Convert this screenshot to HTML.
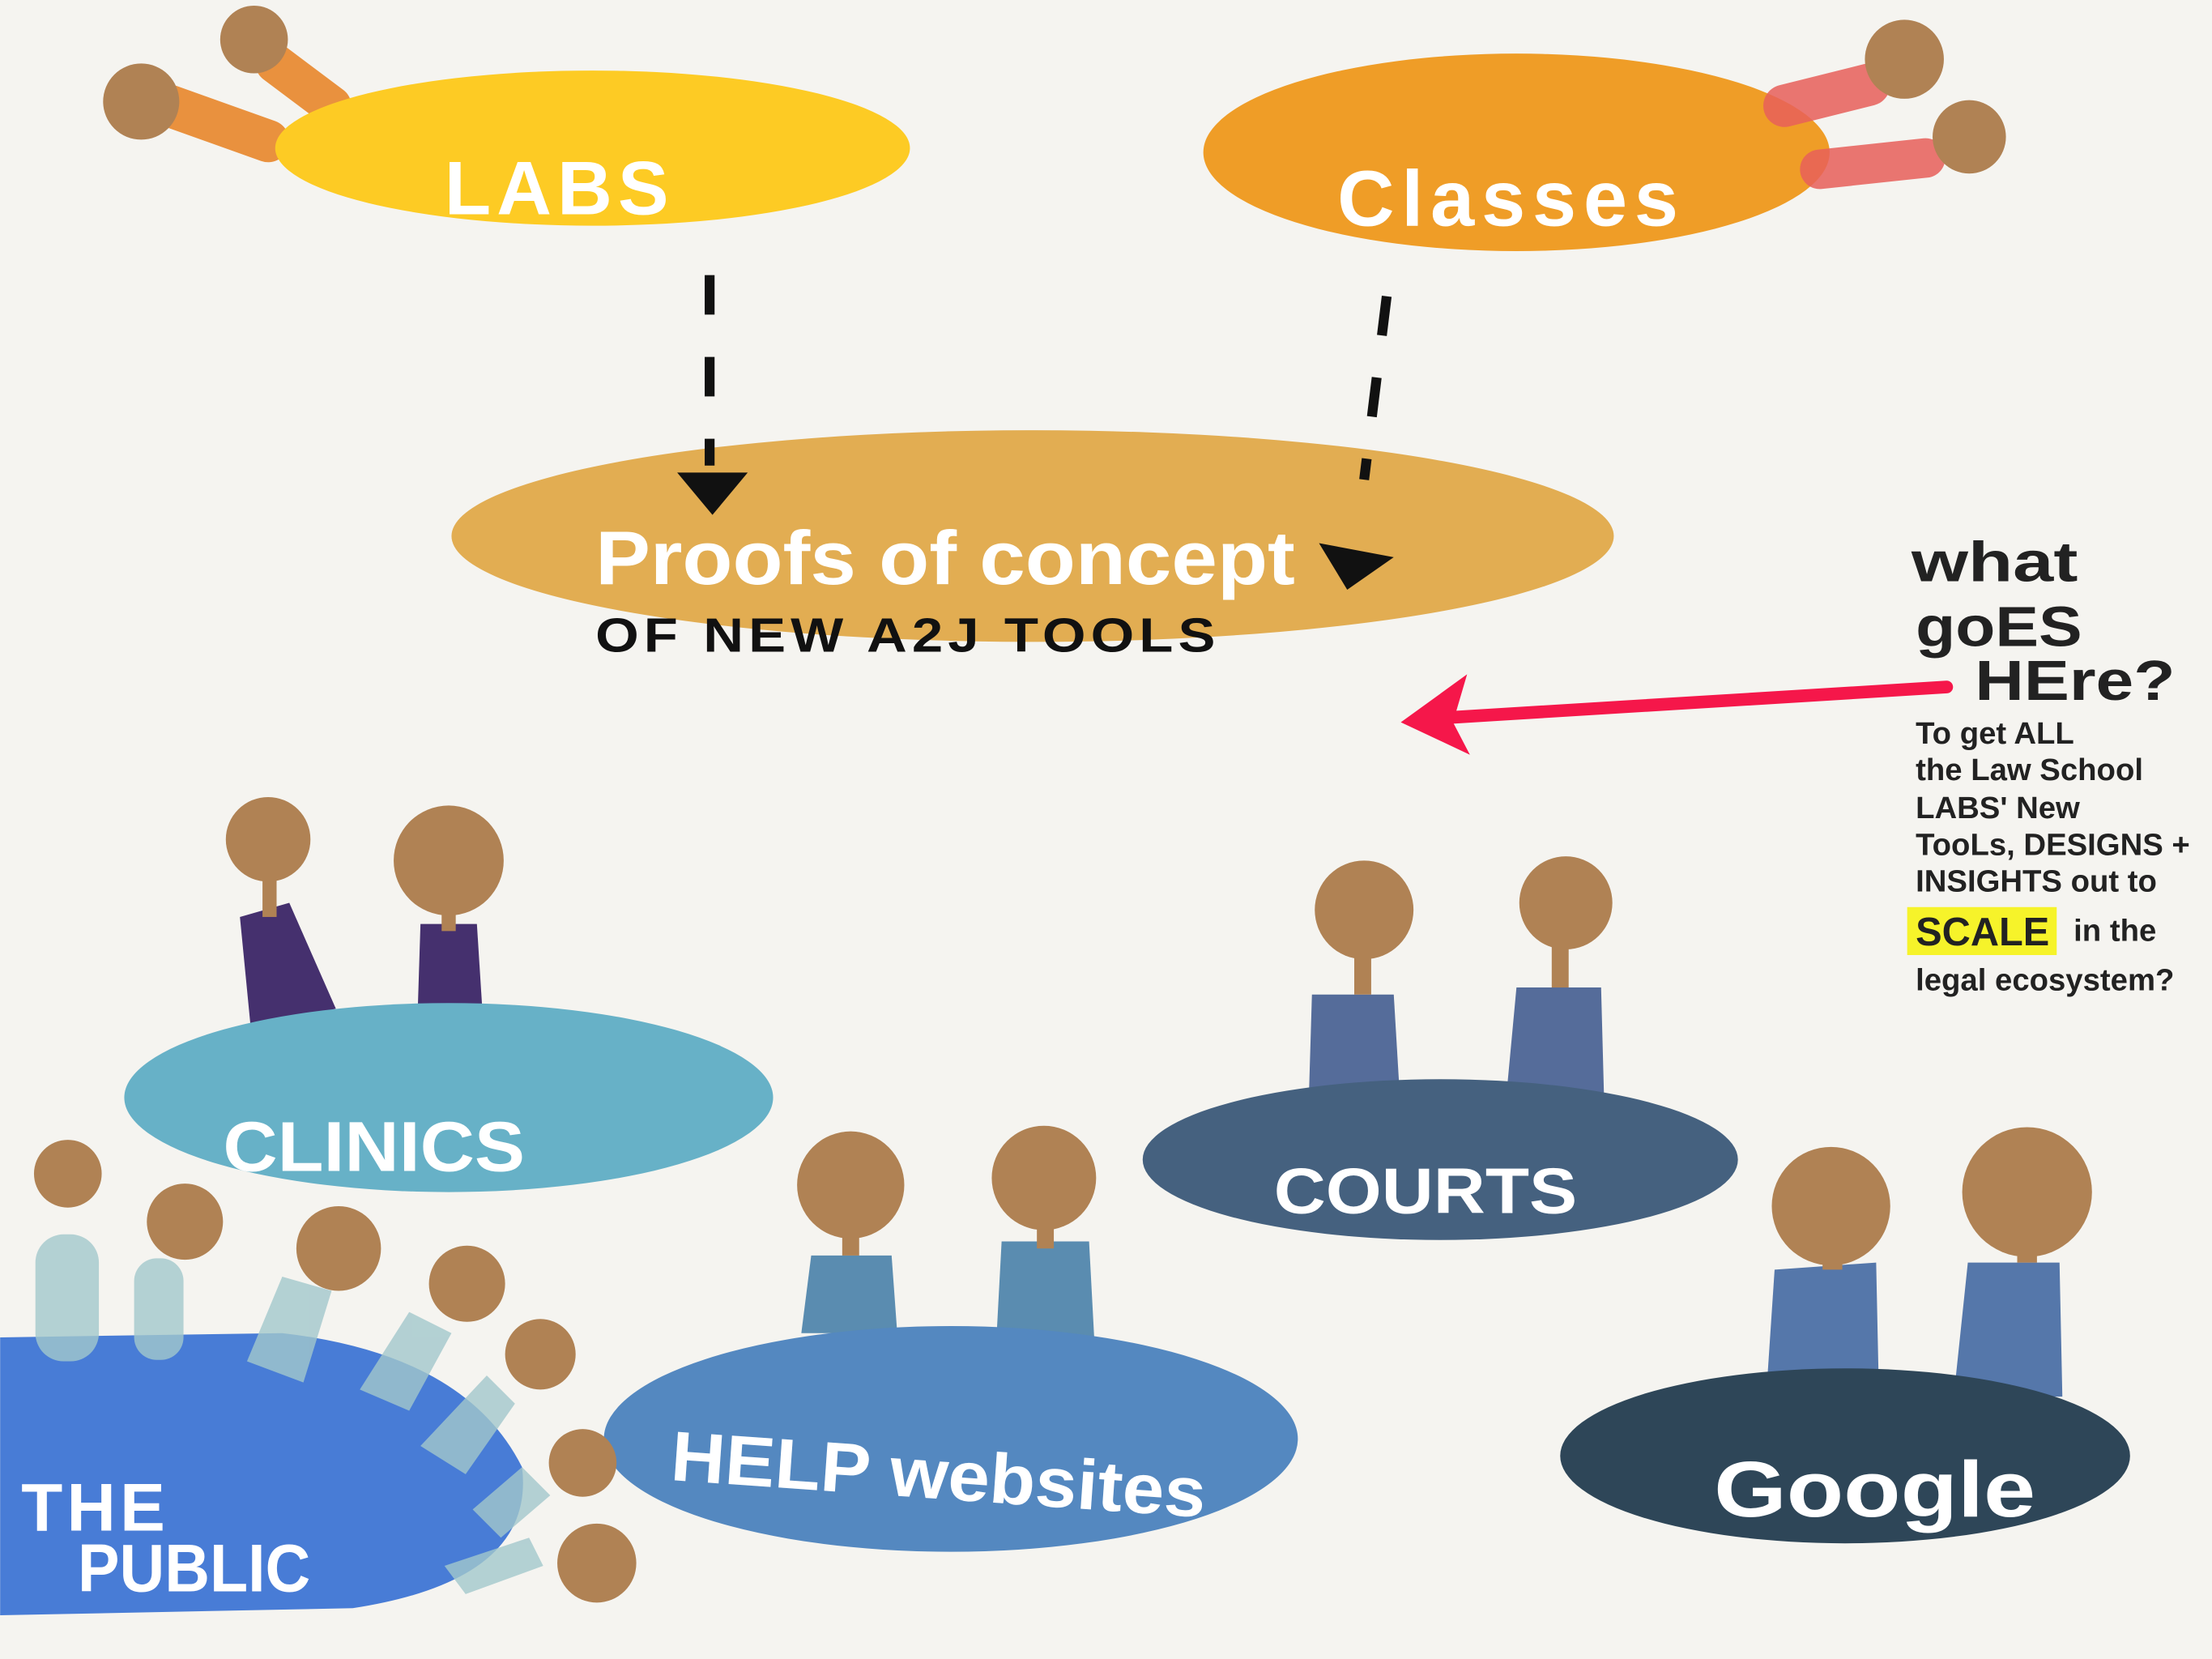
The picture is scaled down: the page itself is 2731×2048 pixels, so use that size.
<!DOCTYPE html>
<html><head><meta charset="utf-8"><style>
html,body{margin:0;padding:0;background:#f5f4f0;}
svg{display:block;}
text{font-family:"Liberation Sans",sans-serif;font-weight:bold;}
</style></head><body>
<svg width="2731" height="2048" viewBox="0 0 1568 1176" xmlns="http://www.w3.org/2000/svg">
<rect width="1568" height="1176" fill="#f5f4f0"/>
<!-- LABS -->
<g opacity="0.85"><path d="M120,75 L190,100" stroke="#e8801f" stroke-width="30" stroke-linecap="round"/><path d="M195,45 L235,75" stroke="#e8801f" stroke-width="28" stroke-linecap="round"/></g>
<circle cx="100" cy="72" r="27" fill="#b08254"/><circle cx="180" cy="28" r="24" fill="#b08254"/>
<ellipse cx="420" cy="105" rx="225" ry="55" fill="#fdcb24"/>
<text x="315" y="152" font-size="54" fill="#fff" letter-spacing="4">LABS</text>
<!-- Classes -->
<ellipse cx="1075" cy="108" rx="222" ry="70" fill="#ef9d27"/>
<g opacity="0.85"><path d="M1265,75 L1325,60" stroke="#e8605a" stroke-width="30" stroke-linecap="round"/><path d="M1290,120 L1365,112" stroke="#e8605a" stroke-width="28" stroke-linecap="round"/></g>
<circle cx="1350" cy="42" r="28" fill="#b08254"/><circle cx="1396" cy="97" r="26" fill="#b08254"/>
<text x="948" y="160" font-size="56" fill="#fff" letter-spacing="5" font-weight="normal">Classes</text>
<!-- Proofs -->
<ellipse cx="732" cy="380" rx="412" ry="75" fill="#e2ad52"/>
<text x="422" y="414" font-size="54" fill="#fff" font-weight="normal" textLength="496" lengthAdjust="spacingAndGlyphs">Proofs of concept</text>
<text x="422" y="462" font-size="34" fill="#111" letter-spacing="3" textLength="443" lengthAdjust="spacingAndGlyphs">OF NEW A2J TOOLS</text>
<!-- dashed arrows -->
<path d="M503,195 L503,330" stroke="#111" stroke-width="7" stroke-dasharray="28,30" fill="none"/>
<path d="M480,335 L530,335 L505,365 Z" fill="#111"/>
<path d="M983,210 L967,340" stroke="#111" stroke-width="7" stroke-dasharray="28,30" fill="none"/>
<path d="M935,385 L988,395 L955,418 Z" fill="#111"/>
<!-- red arrow -->
<path d="M1380,487 L1005,510" stroke="#f5174a" stroke-width="9" fill="none" stroke-linecap="round"/>
<path d="M993,512 L1040,478 L1030,512 L1042,535 Z" fill="#f5174a"/>
<!-- question text -->
<text x="1355" y="412" font-size="40" fill="#222" textLength="118" lengthAdjust="spacingAndGlyphs">what</text>
<text x="1358" y="458" font-size="40" fill="#222" textLength="118" lengthAdjust="spacingAndGlyphs">goES</text>
<text x="1400" y="496" font-size="40" fill="#222" textLength="142" lengthAdjust="spacingAndGlyphs">HEre?</text>
<g font-size="22" fill="#222" font-weight="normal">
<text x="1358" y="527">To  get  ALL</text>
<text x="1358" y="553">the  Law  School</text>
<text x="1358" y="580">LABS' New</text>
<text x="1358" y="606">TooLs, DESIGNS +</text>
<text x="1358" y="632">INSIGHTS  out  to</text>
<rect x="1352" y="643" width="106" height="34" fill="#f6f32a"/>
<text x="1358" y="670" font-size="28">SCALE</text><text x="1470" y="667">in  the</text>
<text x="1358" y="702">legal ecosystem?</text>
</g>
<!-- Clinics -->
<path d="M170,650 L205,640 L238,715 L178,732 Z" fill="#45306e"/>
<path d="M298,655 L338,655 L342,718 L296,718 Z" fill="#45306e"/>
<rect x="186" y="620" width="10" height="30" fill="#b08254"/><rect x="313" y="630" width="10" height="30" fill="#b08254"/>
<circle cx="190" cy="595" r="30" fill="#b08254"/><circle cx="318" cy="610" r="39" fill="#b08254"/>
<ellipse cx="318" cy="778" rx="230" ry="67" fill="#67b1c7"/>
<text x="158" y="830" font-size="50" fill="#fff" textLength="214" lengthAdjust="spacingAndGlyphs">CLINICS</text>
<!-- Courts -->
<path d="M930,705 L988,705 L992,772 L928,772 Z" fill="#556c9a"/>
<path d="M1075,700 L1135,700 L1137,775 L1068,775 Z" fill="#556c9a"/>
<rect x="960" y="670" width="12" height="35" fill="#b08254"/><rect x="1100" y="665" width="12" height="35" fill="#b08254"/>
<circle cx="967" cy="645" r="35" fill="#b08254"/><circle cx="1110" cy="640" r="33" fill="#b08254"/>
<ellipse cx="1021" cy="822" rx="211" ry="57" fill="#45617f"/>
<text x="903" y="860" font-size="46" fill="#fff" textLength="215" lengthAdjust="spacingAndGlyphs">COURTS</text>
<!-- Help websites -->
<path d="M575,890 L632,890 L636,945 L568,945 Z" fill="#5a8cb0"/>
<path d="M710,880 L772,880 L776,955 L706,955 Z" fill="#5a8cb0"/>
<rect x="597" y="860" width="12" height="30" fill="#b08254"/><rect x="735" y="855" width="12" height="30" fill="#b08254"/>
<circle cx="603" cy="840" r="38" fill="#b08254"/><circle cx="740" cy="835" r="37" fill="#b08254"/>
<ellipse cx="674" cy="1020" rx="246" ry="80" fill="#5488c0"/>
<text x="475" y="1062" font-size="50" fill="#fff" transform="rotate(4 660 1050)" textLength="380" lengthAdjust="spacingAndGlyphs">HELP websites</text>
<!-- Google -->
<path d="M1258,900 L1330,895 L1332,990 L1252,990 Z" fill="#5577aa"/>
<path d="M1395,895 L1460,895 L1462,990 L1385,990 Z" fill="#5577aa"/>
<rect x="1292" y="870" width="14" height="30" fill="#b08254"/><rect x="1430" y="865" width="14" height="30" fill="#b08254"/>
<circle cx="1298" cy="855" r="42" fill="#b08254"/><circle cx="1437" cy="845" r="46" fill="#b08254"/>
<ellipse cx="1308" cy="1032" rx="202" ry="62" fill="#2e4658"/>
<text x="1215" y="1075" font-size="56" fill="#fff" font-weight="normal" textLength="228" lengthAdjust="spacingAndGlyphs">Google</text>
<!-- The Public -->
<path d="M0,948 L200,945 Q330,960 370,1040 Q380,1120 250,1140 L0,1145 Z" fill="#487cd6"/>
<g fill="#a3c8cc" opacity="0.8">
<rect x="25" y="875" width="45" height="90" rx="20"/>
<rect x="95" y="892" width="35" height="72" rx="16"/>
<path d="M200,905 L235,915 L215,980 L175,965 Z"/>
<path d="M290,930 L320,945 L290,1000 L255,985 Z"/>
<path d="M345,975 L365,995 L330,1045 L298,1025 Z"/>
<path d="M370,1040 L390,1060 L355,1090 L335,1070 Z"/>
<path d="M375,1090 L385,1110 L330,1130 L315,1110 Z"/>
</g>
<g fill="#b08254">
<circle cx="48" cy="832" r="24"/><circle cx="131" cy="866" r="27"/><circle cx="240" cy="885" r="30"/>
<circle cx="331" cy="910" r="27"/><circle cx="383" cy="960" r="25"/><circle cx="413" cy="1037" r="24"/><circle cx="423" cy="1108" r="28"/>
</g>
<text x="15" y="1085" font-size="48" fill="#fff" letter-spacing="3">THE</text>
<text x="55" y="1128" font-size="48" fill="#fff" textLength="165" lengthAdjust="spacingAndGlyphs">PUBLIC</text>
</svg>
</body></html>
